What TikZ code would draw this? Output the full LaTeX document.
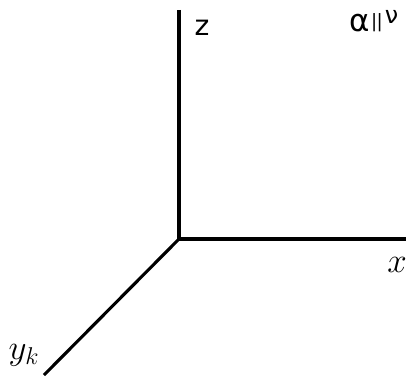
\documentclass[tikz,border=0pt]{standalone}
\usepackage{fontspec}
\newfontfamily\axisfont{DejaVu Sans}
\usetikzlibrary{positioning}
\newcommand\parbar{\raisebox{3pt}{\fontsize{13}{14}\selectfont|}}
\tikzset{
  axis/.style={line width=2.2pt,draw=black},
  lab/.style={inner sep=0pt,font=\axisfont\fontsize{20}{22}\selectfont},
  mlab/.style={inner sep=0pt,font=\fontsize{25}{27}\selectfont},
}
\begin{document}
\begin{tikzpicture}[x=0.025cm,y=0.025cm]
  \useasboundingbox (0,0) rectangle (406,383);
  % axes
  \coordinate (O) at (179,144);
  \coordinate (zend) at (179,373);
  \coordinate (xend) at (406,144);
  \coordinate (yend) at (44,8);
  \draw[axis] (zend) -- (O) -- (xend);
  \draw[axis] (O) -- (yend);
  % labels
  \node[lab] (zlab) at (202,355) {z};
  \node[lab,anchor=base west] (rel) at (349,351)
    {\fontsize{22}{24}\selectfont α\hspace{1pt}\parbar\hspace{-0.5pt}\parbar\hspace{1.5pt}\raisebox{6pt}{\fontsize{17}{18}\selectfont ν}};
  \node[mlab] (xlab) at (397,118) {$x$};
  \node[mlab] (ylab) at (24,28) {$y_k$};
\end{tikzpicture}
\end{document}
